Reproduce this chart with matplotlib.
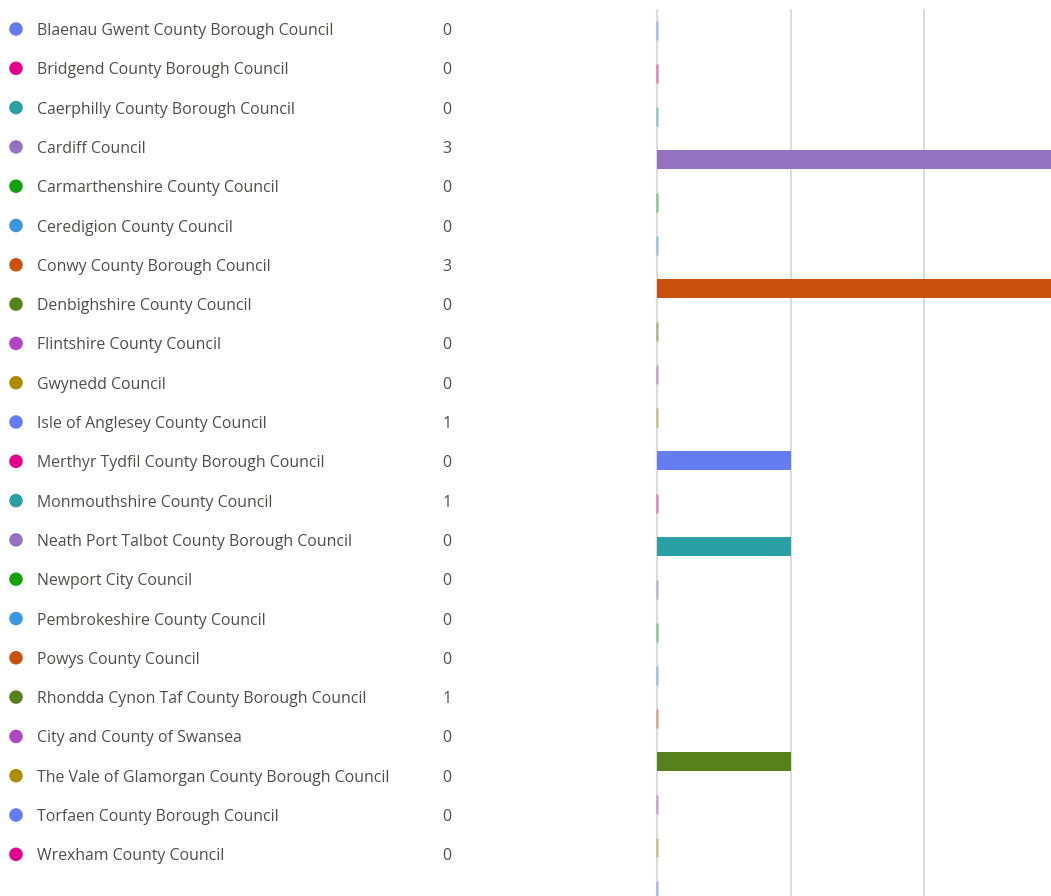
import matplotlib.pyplot as plt

councils = [
    "Blaenau Gwent County Borough Council",
    "Bridgend County Borough Council",
    "Caerphilly County Borough Council",
    "Cardiff Council",
    "Carmarthenshire County Council",
    "Ceredigion County Council",
    "Conwy County Borough Council",
    "Denbighshire County Council",
    "Flintshire County Council",
    "Gwynedd Council",
    "Isle of Anglesey County Council",
    "Merthyr Tydfil County Borough Council",
    "Monmouthshire County Council",
    "Neath Port Talbot County Borough Council",
    "Newport City Council",
    "Pembrokeshire County Council",
    "Powys County Council",
    "Rhondda Cynon Taf County Borough Council",
    "City and County of Swansea",
    "The Vale of Glamorgan County Borough Council",
    "Torfaen County Borough Council",
    "Wrexham County Council",
]
counts = [0, 0, 0, 3, 0, 0, 3, 0, 0, 0, 1, 0, 1, 0, 0, 0, 0, 1, 0, 0, 0, 0]
palette = ["#637cef", "#e3008c", "#2aa0a4", "#9373c0", "#13a10e",
           "#3a96dd", "#ca5010", "#57811b", "#b146c2", "#ae8c00"]
colors = [palette[i % len(palette)] for i in range(len(councils))]

W, H = 1051, 896
plt.rcParams['font.family'] = ['Open Sans', 'DejaVu Sans']
fig = plt.figure(figsize=(W / 100, H / 100), dpi=100)

n = len(councils)
idx = list(range(n))

# legend list on the left
row_h = 39.3
top = 29 - row_h / 2
leg = fig.add_axes([0, (H - top - n * row_h) / H, 470 / W, n * row_h / H])
leg.set_xlim(0, 470)
leg.set_ylim(n - 0.5, -0.5)
leg.axis('off')
leg.scatter([16] * n, idx, s=95, c=colors, linewidths=0)
for i, (name, v) in enumerate(zip(councils, counts)):
    leg.text(37, i, name, ha='left', va='center_baseline', fontsize=11.4, color='#4f4d4b')
    leg.text(447, i, str(v), ha='center', va='center_baseline', fontsize=11.4, color='#4f4d4b')

# bars on the right (chart runs past the image edges)
band = 43
btop = 9
px_per_unit = 133.5
x0 = -0.1
ax = fig.add_axes([(657 + x0 * px_per_unit) / W, (H - btop - n * band) / H,
                   (3 - x0) * px_per_unit / W, n * band / H])
ax.set_xlim(x0, 3)
ax.set_ylim(n - 0.5, -0.5)
ax.set_xticks([0, 1, 2, 3])
ax.grid(axis='x', color='#dcdcdc', linewidth=1.4, zorder=0)
ax.set_axisbelow(True)
ax.plot([0, 0], [-0.5, n - 0.5], color='#dcdcdc', linewidth=1.6, zorder=2)
for i, (v, c) in enumerate(zip(counts, colors)):
    if v > 0:
        ax.barh(i, v, height=0.42, color=c, edgecolor='none', zorder=3)
    else:
        ax.barh(i, 0, height=0.42, color=c, edgecolor=c, linewidth=1.8,
                alpha=0.4, zorder=3)
ax.set_yticks([])
ax.tick_params(axis='x', length=0, labelbottom=False)
for s in ax.spines.values():
    s.set_visible(False)

fig.savefig('out.png', dpi=100)
